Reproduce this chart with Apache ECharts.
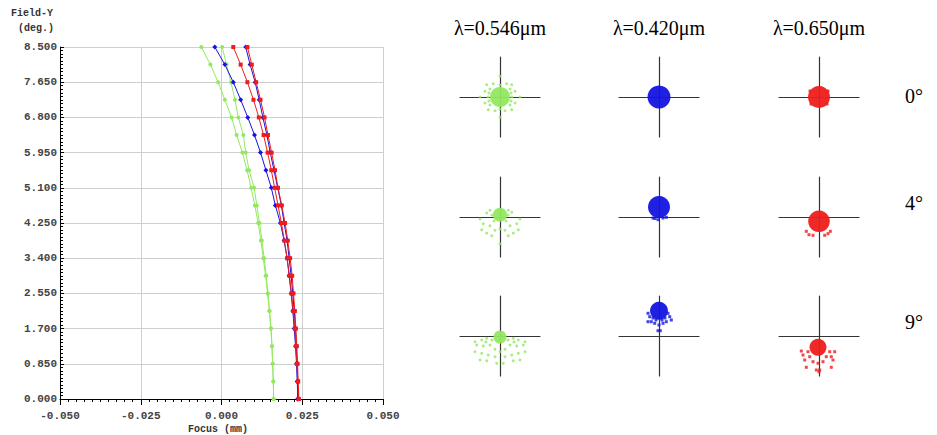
<!DOCTYPE html>
<html><head><meta charset="utf-8">
<script src="https://cdn.jsdelivr.net/npm/echarts@6/dist/echarts.min.js"></script>
<style>html,body{margin:0;padding:0;background:#fff}#c{width:937px;height:435px}</style>
</head><body><div id="c"></div>
<script>
// ---------- Field curvature data ----------
const fieldY = [0.000,0.425,0.850,1.275,1.700,2.125,2.550,2.975,3.400,3.825,4.250,4.675,5.100,5.525,5.950,6.375,6.800,7.225,7.650,8.075,8.500];
const focusGreenS = [0.01615,0.01604,0.01583,0.01563,0.01531,0.01490,0.01438,0.01385,0.01323,0.01250,0.01177,0.01094,0.01010,0.00854,0.00750,0.00677,0.00521,0.00417,0.00292,0.00156,0.00021];
const focusGreenT = [0.01615,0.01604,0.01583,0.01563,0.01531,0.01479,0.01427,0.01365,0.01292,0.01219,0.01135,0.01031,0.00917,0.00792,0.00646,0.00469,0.00313,0.00104,-0.00104,-0.00344,-0.00625];
const focusBlueS  = [0.02365,0.02354,0.02344,0.02313,0.02292,0.02250,0.02208,0.02156,0.02094,0.02031,0.01938,0.01854,0.01740,0.01625,0.01510,0.01406,0.01281,0.01167,0.01042,0.00885,0.00750];
const focusBlueT  = [0.02365,0.02344,0.02323,0.02292,0.02250,0.02208,0.02156,0.02094,0.02031,0.01938,0.01823,0.01667,0.01542,0.01375,0.01208,0.01021,0.00813,0.00594,0.00365,0.00104,-0.00208];
const focusRedS   = [0.02396,0.02375,0.02354,0.02333,0.02302,0.02271,0.02229,0.02188,0.02125,0.02052,0.01969,0.01865,0.01750,0.01656,0.01552,0.01438,0.01333,0.01208,0.01073,0.00938,0.00802];
const focusRedT   = [0.02385,0.02365,0.02333,0.02302,0.02271,0.02219,0.02167,0.02104,0.02031,0.01948,0.01854,0.01750,0.01646,0.01542,0.01427,0.01302,0.01156,0.00990,0.00802,0.00594,0.00365];
const xTicks = [-0.050,-0.025,0.000,0.025,0.050];
const yTickStep = 0.85;
const yMax = 8.5;

// ---------- Spot diagrams ----------
const wavelengths = ['λ=0.546μm','λ=0.420μm','λ=0.650μm'];
const fieldAngles = ['0°','4°','9°'];
// core blobs: [x, y, radius] ; scatter rays: [x, y]
const spotG0core = [[0,0,10]];
const spotG0rays = [[-13.3,12.3],[-6.7,13.3],[6.7,13.3],[11.7,12.3],[-15,5.7],[15,5.7],[-20,0],[20,0],[-15,-6],[15,-6],[-11.7,-12.7],[-5,-13.7],[5,-13.7],[11.7,-12.7],[0,20.7],[0,-20.3],[-10,8],[10,8],[-10,-8],[10,-8],[-12,0],[12,0],[0,12],[0,-12],[-11,4],[11,4],[-11,-4],[11,-4]];
const spotB0core = [[0,0,11.5]];
const spotB0rays = [];
const spotR0core = [[0,0,11]];
const spotR0rays = [[-8,-7],[8,-7],[-9,6],[9,6]];
const spotG4core = [[0,2.3,7]];
const spotG4rays = [[-10,6.7],[8.3,6.7],[-13.3,4],[11.7,4.7],[-20,-2],[20,-2],[-16.7,-6.7],[16.7,-6.7],[-18.3,-12.7],[18.3,-12.7],[-13.3,-16],[13.3,-16],[-8.3,-18.7],[8.3,-18.7],[0,-26.7],[-5,-13.3],[5,-13.3],[-10,-8.7],[10,-8.7],[0,-12],[-6,-4],[6,-4],[-8,2],[8,2]];
const spotB4core = [[0,10,11]];
const spotB4rays = [[-6,-1],[-1,-2.7],[4,-1],[7.3,-0.3],[-4,-1.5]];
const spotR4core = [[0,-4.3,10.8]];
const spotR4rays = [[-12.7,-14.3],[-10,-17.7],[-6,-18.3],[5.7,-18.3],[9,-16.7],[11.3,-14.3]];
const spotG9core = [[0,-1,6.5]];
const spotG9rays = [[-25,-5.7],[-18.3,-4],[-13.3,-2.3],[13.3,-2.3],[18.3,-4],[25,-5.7],[-23.3,-9],[-16.7,-10],[-10,-9],[10,-9],[16.7,-10],[23.3,-9],[-25,-15.7],[-18.3,-17.3],[-11.7,-19],[-5,-20.7],[5,-20.7],[11.7,-19],[18.3,-17.3],[25,-15.7],[-20,-24],[-13.3,-24.7],[13.3,-24.7],[20,-24],[-3.3,-27.3],[3.3,-27.3],[-5,-13.3],[5,-13.3],[0,-15.7],[-8,-4],[8,-4],[-14,-6],[14,-6]];
const spotB9core = [[0,25.3,9]];
const spotB9rays = [[-11,22.7],[-9.3,19.3],[-7.7,14.3],[-11,14.3],[9,22.7],[10.7,19.3],[7.3,14.3],[12.3,16],[-4.3,12.7],[4,12.7],[0,11],[-1,5.3],[1.3,5.3],[-6,18],[6,18],[-3,16],[3,16]];
const spotR9core = [[-1,-11.3,8.5]];
const spotR9rays = [[-17.7,-15],[-16,-19],[-14.3,-24],[-12.7,-31.3],[-11,-15.7],[-9.3,-20.7],[-6,-25.7],[-1,-27.3],[4,-25.7],[7.3,-20.7],[10.7,-15.7],[12.3,-20.7],[14,-24],[15.7,-15.7],[12.3,-31.3],[-2.7,-34],[0.7,-34],[0,-35.7]];

const spots = [
  [spotG0core,spotG0rays],[spotB0core,spotB0rays],[spotR0core,spotR0rays],
  [spotG4core,spotG4rays],[spotB4core,spotB4rays],[spotR4core,spotR4rays],
  [spotG9core,spotG9rays],[spotB9core,spotB9rays],[spotR9core,spotR9rays]
];

// ---------- styling ----------
const GREEN = '#94e860', BLUE = '#1414e0', RED = '#ee1c1c';
const colColors = [GREEN, BLUE, RED];
const colSymbols = ['circle','rect','rect'];
const SPOT_RANGE = 40;      // axis half-range
const SPOT_BOX = 80;        // pixel size of each spot grid
const colCenters = [500, 659, 819];
const rowCenters = [97, 217, 336];

const chart = echarts.init(document.getElementById('c'), null, {renderer:'svg'});

const grids = [{left:60, top:47, width:323, height:352}];
const xAxes = [{
  gridIndex:0, type:'value', min:xTicks[0], max:xTicks[xTicks.length-1], interval:0.025,
  axisLine:{onZero:false, lineStyle:{color:'#000', width:1}},
  axisTick:{show:true, length:6, lineStyle:{color:'#000'}},
  minorTick:{show:true, splitNumber:10, length:3, lineStyle:{color:'#000'}},
  splitLine:{show:true, lineStyle:{color:'#cfcfcf', width:1}},
  axisLabel:{margin:11, color:'#444', fontFamily:'Liberation Mono', fontWeight:'bold', fontSize:11,
    formatter:v=>v.toFixed(3)}
}];
const yAxes = [{
  gridIndex:0, type:'value', min:0, max:yMax, interval:yTickStep,
  axisLine:{onZero:false, lineStyle:{color:'#000', width:1}},
  axisTick:{show:true, inside:true, length:4, lineStyle:{color:'#000'}},
  minorTick:{show:true, splitNumber:10, length:3, lineStyle:{color:'#000'}},
  splitLine:{show:true, lineStyle:{color:'#cfcfcf', width:1}},
  axisLabel:{margin:3, color:'#444', fontFamily:'Liberation Mono', fontWeight:'bold', fontSize:11,
    formatter:v=>v.toFixed(3)}
}];

function lineSeries(xs, color, symbol, size){
  return {type:'line', xAxisIndex:0, yAxisIndex:0, data: fieldY.map((f,i)=>[xs[i], f]),
    symbol, symbolSize:size, showSymbol:true, lineStyle:{color, width:1}, itemStyle:{color},
    animation:false, silent:true};
}
const series = [
  lineSeries(focusGreenS, GREEN, 'circle', 4),
  lineSeries(focusGreenT, GREEN, 'circle', 4),
  lineSeries(focusBlueS, BLUE, 'diamond', 5),
  lineSeries(focusBlueT, BLUE, 'diamond', 5),
  lineSeries(focusRedS, RED, 'rect', 4),
  lineSeries(focusRedT, RED, 'rect', 4),
];

const pxPerUnit = SPOT_BOX / (2*SPOT_RANGE);
spots.forEach((sp, k) => {
  const row = Math.floor(k/3), col = k%3;
  const gi = k+1;
  grids.push({left: colCenters[col]-SPOT_BOX/2, top: rowCenters[row]-SPOT_BOX/2, width:SPOT_BOX, height:SPOT_BOX});
  const ax = {gridIndex:gi, type:'value', min:-SPOT_RANGE, max:SPOT_RANGE,
    axisLine:{onZero:true, lineStyle:{color:'#333', width:1.2}},
    axisTick:{show:false}, axisLabel:{show:false}, splitLine:{show:false}};
  xAxes.push(Object.assign({}, ax));
  yAxes.push(Object.assign({}, ax));
  const color = colColors[col];
  series.push({type:'scatter', xAxisIndex:gi, yAxisIndex:gi, data: sp[0],
    symbol:'circle', symbolSize: v => v[2]*2*pxPerUnit, itemStyle:{color, opacity:0.95},
    animation:false, silent:true, z:3});
  series.push({type:'scatter', xAxisIndex:gi, yAxisIndex:gi, data: sp[1],
    symbol: colSymbols[col], symbolSize: 3, itemStyle:{color},
    animation:false, silent:true, z:3});
});

const graphic = [
  {type:'text', left:11, top:8, style:{text:'Field-Y', font:'bold 10px "Liberation Mono"', fill:'#333'}},
  {type:'text', left:18, top:23, style:{text:'(deg.)', font:'bold 10px "Liberation Mono"', fill:'#333'}},
  {type:'text', left:188, top:424, style:{text:'Focus (mm)', font:'bold 10px "Liberation Mono"', fill:'#333'}},
];
wavelengths.forEach((w,i)=>{
  graphic.push({type:'text', x:colCenters[i], y:28, style:{text:w, font:'20px "Liberation Serif"', fill:'#000', align:'center', verticalAlign:'middle'}});
});
const degY = [96, 203, 322];
fieldAngles.forEach((a,i)=>{
  graphic.push({type:'text', x:914, y:degY[i], style:{text:a, font:'20px "Liberation Serif"', fill:'#000', align:'center', verticalAlign:'middle'}});
});

chart.setOption({animation:false, grid:grids, xAxis:xAxes, yAxis:yAxes, series, graphic});
</script></body></html>
